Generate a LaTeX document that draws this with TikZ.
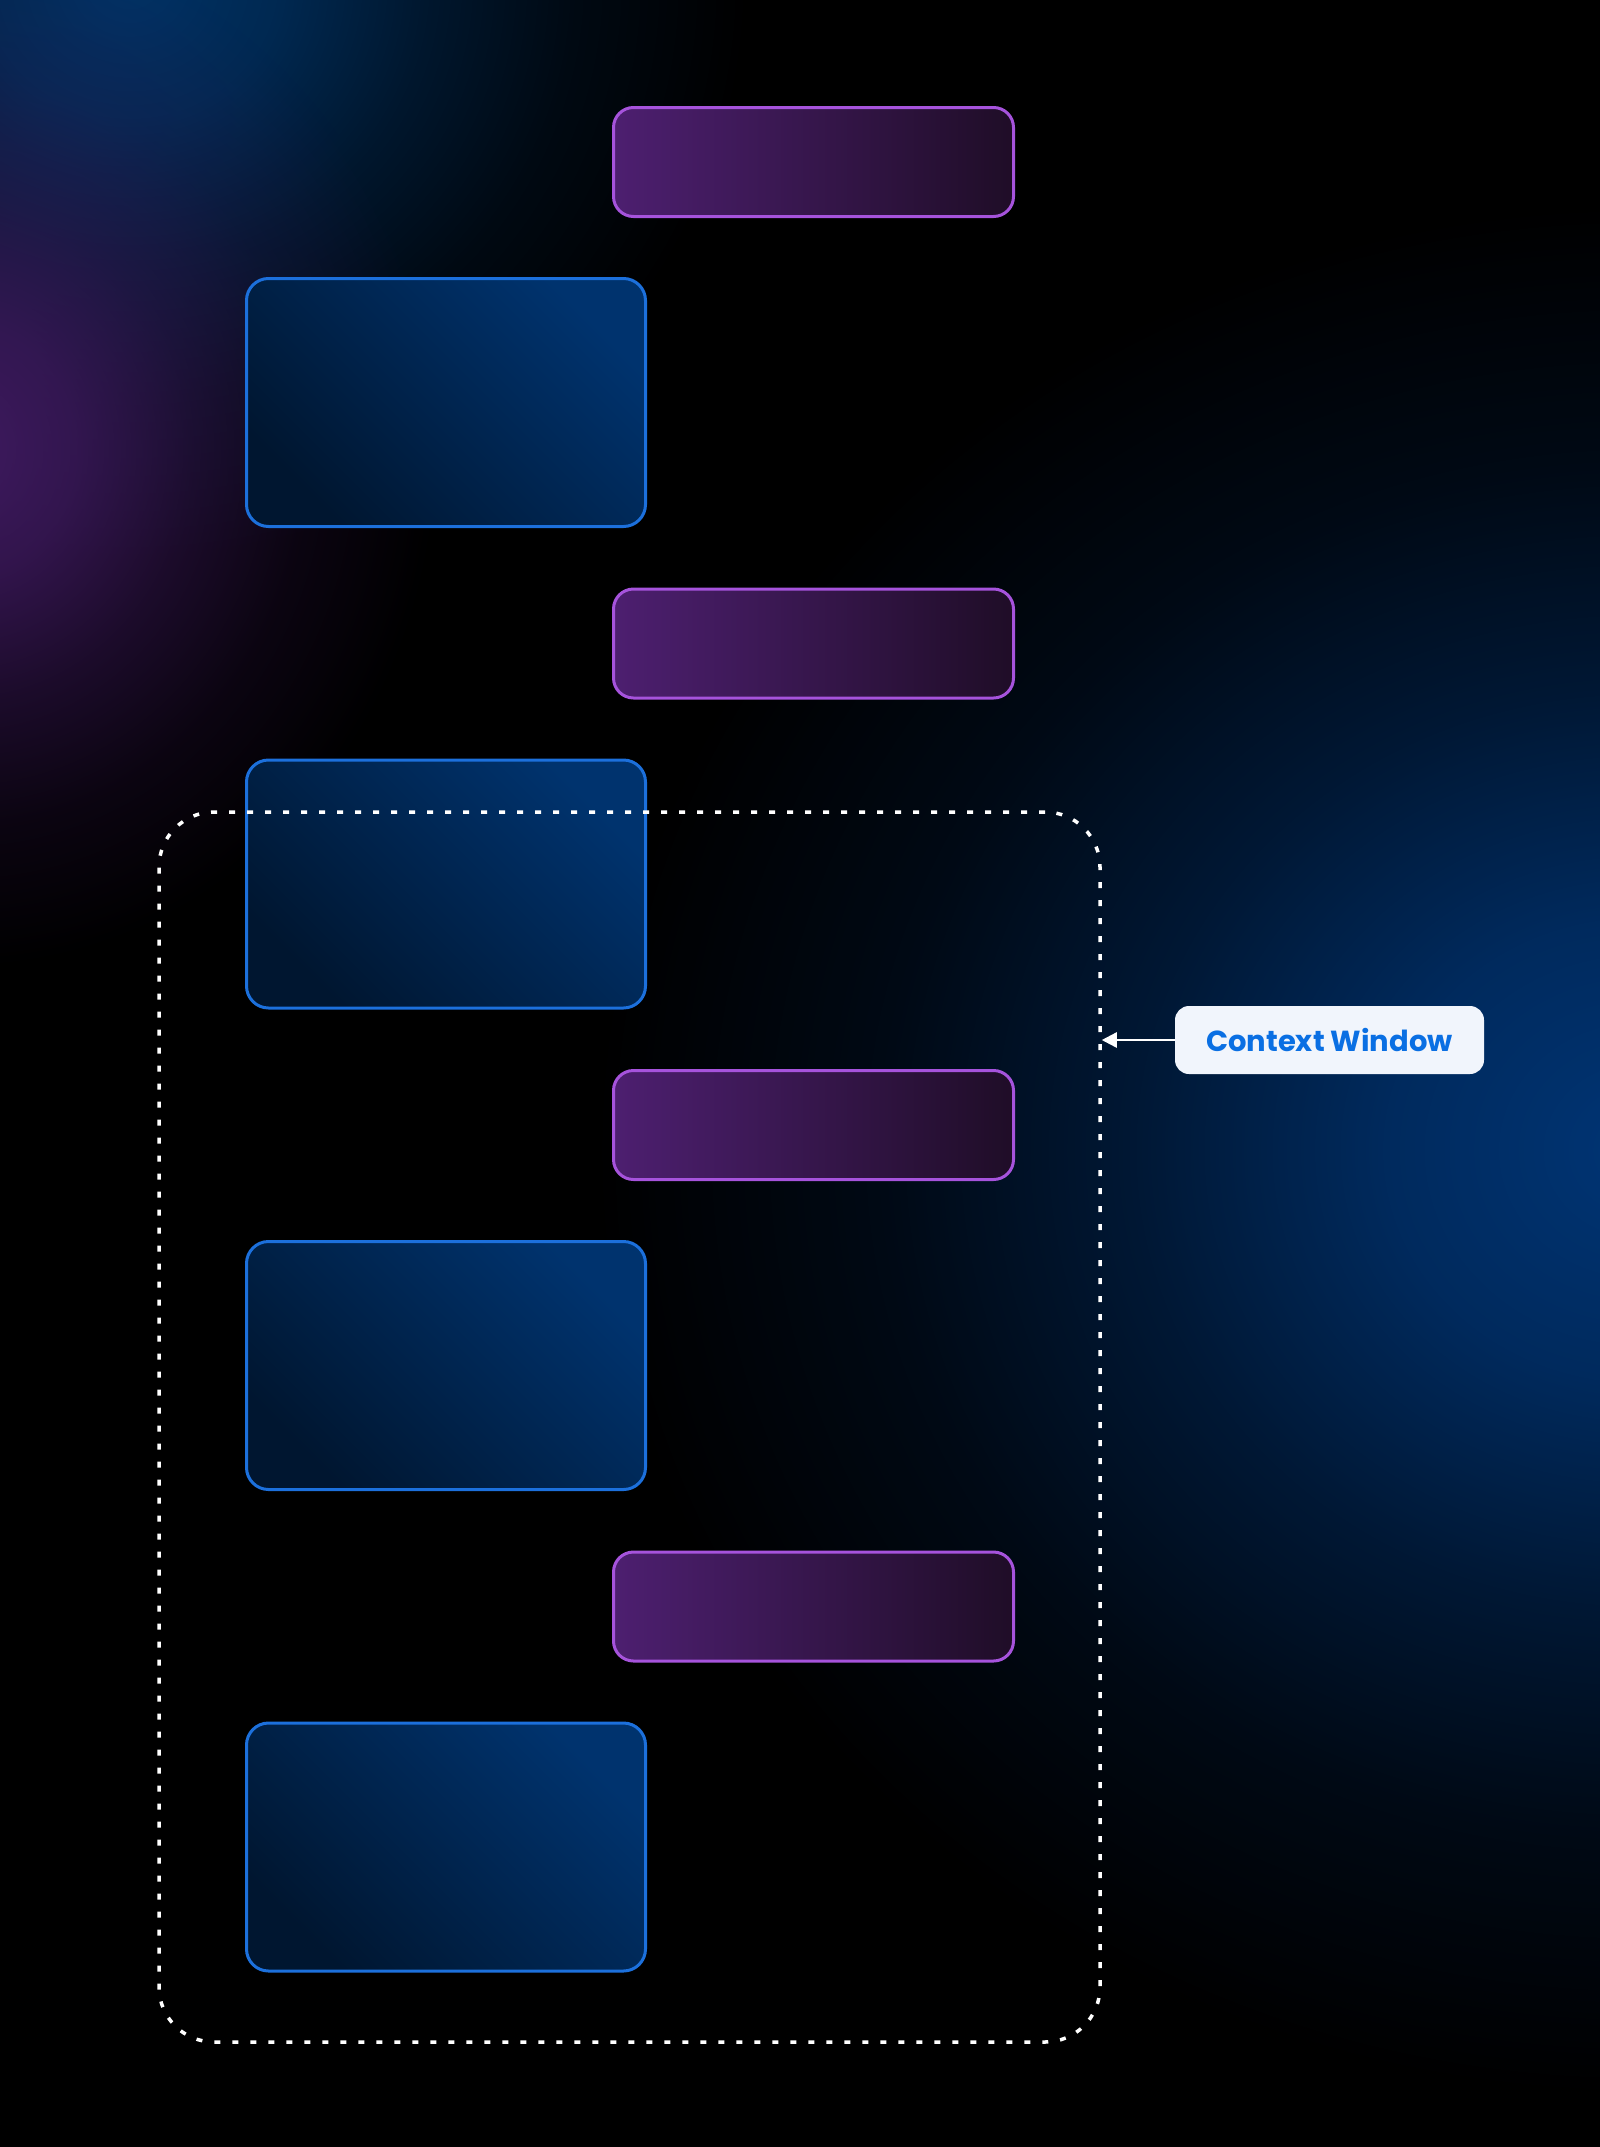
\documentclass[tikz,border=0pt]{standalone}
\usepackage{fontspec}
\newfontfamily\lblfont{Poppins}
\usetikzlibrary{arrows.meta,fadings}
\pgfdeclareradialshading{glowsh}{\pgfpointorigin}{color(0bp)=(white); color(6bp)=(white!80!black); color(12bp)=(white!45!black); color(18bp)=(white!18!black); color(25bp)=(black); color(50bp)=(black)}
\pgfdeclarefading{glowf}{\pgfuseshading{glowsh}}
\definecolor{glowblue}{HTML}{003366}
\definecolor{glowpurple}{HTML}{3F1A60}
\definecolor{glowright}{HTML}{003575}
\definecolor{purpL}{HTML}{4D1F70}
\definecolor{purpR}{HTML}{1F0D27}
\definecolor{purpEdge}{HTML}{A653DC}
\definecolor{blueT}{HTML}{00336E}
\definecolor{blueB}{HTML}{001630}
\definecolor{blueEdge}{HTML}{1C70DC}
\definecolor{lblfill}{HTML}{F1F5FC}
\definecolor{lbltext}{HTML}{0A6FE3}
\tikzset{
  reply/.style={draw=purpEdge, line width=3pt, rounded corners=20pt,
    left color=purpL, right color=purpR,
    minimum width=400pt, minimum height=109pt, inner sep=0pt},
  prompt/.style={draw=blueEdge, line width=3pt, rounded corners=22pt,
    top color=blueT, bottom color=blueB, shading angle=-45,
    minimum width=399pt, minimum height=248pt, inner sep=0pt},
  ctxbox/.style={draw=white, line width=3.5pt, dash pattern=on 6pt off 12pt,
    rounded corners=55pt, minimum width=941pt, minimum height=1230pt, inner sep=0pt},
  lblbox/.style={fill=lblfill, rounded corners=14pt, minimum width=309pt,
    minimum height=68pt, inner sep=0pt, text=lbltext,
    font=\lblfont\bfseries\fontsize{29pt}{34pt}\selectfont},
  glow/.style={path fading=glowf}
}
\begin{document}
\begin{tikzpicture}[x=1pt,y=-1pt]
\useasboundingbox (0,0) rectangle (1600,2147);
\fill[black] (0,0) rectangle (1600,2147);
\begin{scope}
\clip (0,0) rectangle (1600,2147);
\fill[glowblue, glow] (130,-20) ellipse [x radius=620pt, y radius=580pt];
\fill[glowpurple, glow] (-40,450) ellipse [x radius=480pt, y radius=520pt];
\fill[glowright, glow] (1640,1150) ellipse [x radius=1050pt, y radius=950pt];
\end{scope}

\node[reply] (r1) at (813.5,162) {};
\node[prompt] (p1) at (446,402.5) {};
\node[reply] (r2) at (813.5,643.5) {};
\node[prompt] (p2) at (446,884) {};
\node[reply] (r3) at (813.5,1125) {};
\node[prompt] (p3) at (446,1365.5) {};
\node[reply] (r4) at (813.5,1606.5) {};
\node[prompt] (p4) at (446,1847) {};

\node[ctxbox] (ctx) at (629.5,1427) {};
\node[lblbox] (lbl) at (1329.5,1040) {Context Window};
\draw[white, line width=2.5pt, -{Triangle[length=15pt,width=15pt]}] (lbl.west) -- (ctx.east |- lbl.west);
\end{tikzpicture}
\end{document}
